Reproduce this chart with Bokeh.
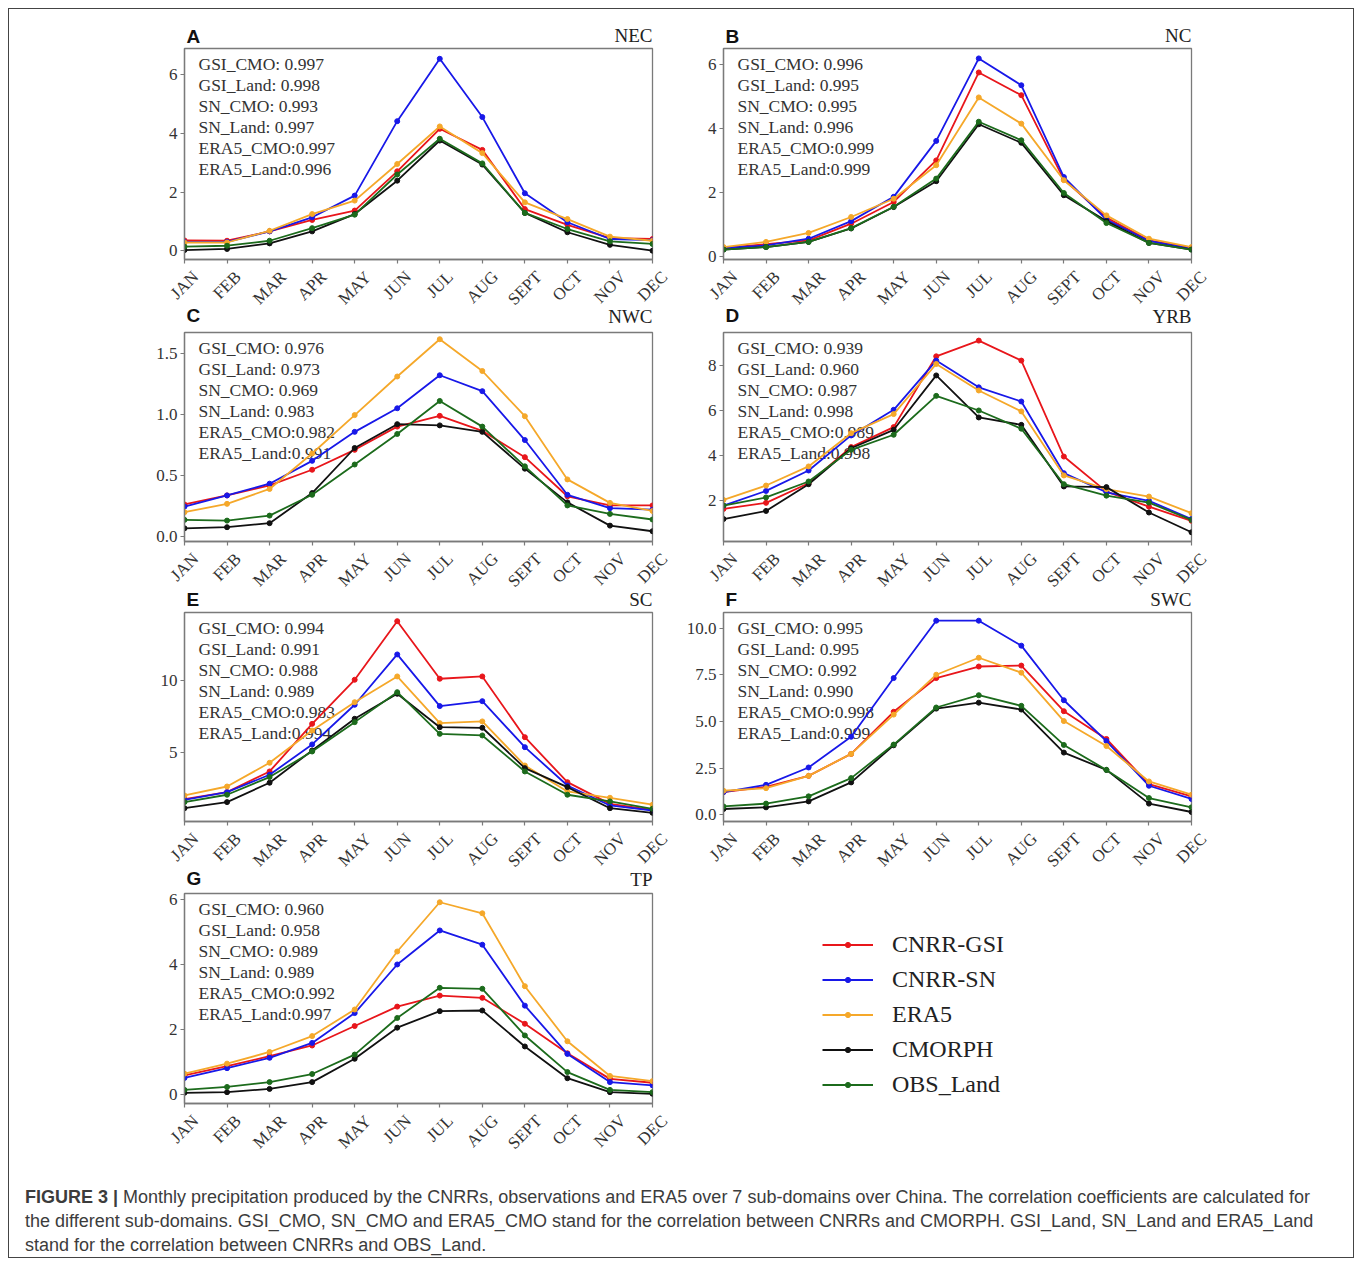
import numpy as np
from bokeh.plotting import figure
from bokeh.models import (Label, Legend, LegendItem, FixedTicker, PrintfTickFormatter,
                          CustomJSTickFormatter, Range1d, Spacer, Div)
from bokeh.layouts import column, row
from bokeh.embed import file_html
from bokeh.resources import INLINE

# ---------------- data ----------------
months = ["JAN", "FEB", "MAR", "APR", "MAY", "JUN", "JUL", "AUG", "SEPT", "OCT", "NOV", "DEC"]
series_names = ["CNRR-GSI", "CNRR-SN", "ERA5", "CMORPH", "OBS_Land"]
series_colors = ["#e8161b", "#1818e8", "#f5a82a", "#111111", "#1c6b1c"]
region_names = ["NEC", "NC", "NWC", "YRB", "SC", "SWC", "TP"]
panel_letters = ["A", "B", "C", "D", "E", "F", "G"]
corr_names = ["GSI_CMO: ", "GSI_Land: ", "SN_CMO: ", "SN_Land: ", "ERA5_CMO:", "ERA5_Land:"]

nec_gsi = [0.35, 0.34, 0.66, 1.05, 1.37, 2.71, 4.16, 3.44, 1.42, 0.88, 0.43, 0.40]
nec_sn = [0.30, 0.30, 0.66, 1.14, 1.88, 4.42, 6.55, 4.56, 1.96, 0.97, 0.40, 0.36]
nec_era5 = [0.28, 0.28, 0.68, 1.25, 1.71, 2.96, 4.24, 3.33, 1.65, 1.08, 0.48, 0.34]
nec_cmo = [0.02, 0.06, 0.25, 0.66, 1.25, 2.39, 3.76, 2.94, 1.29, 0.63, 0.20, 0.00]
nec_obs = [0.14, 0.17, 0.34, 0.77, 1.23, 2.60, 3.82, 2.98, 1.29, 0.74, 0.32, 0.23]

nc_gsi = [0.26, 0.38, 0.50, 1.02, 1.70, 3.00, 5.75, 5.04, 2.40, 1.21, 0.50, 0.26]
nc_sn = [0.26, 0.34, 0.55, 1.10, 1.86, 3.61, 6.19, 5.35, 2.48, 1.15, 0.48, 0.23]
nc_era5 = [0.29, 0.45, 0.73, 1.23, 1.80, 2.85, 4.97, 4.15, 2.38, 1.28, 0.55, 0.29]
nc_cmo = [0.21, 0.29, 0.45, 0.87, 1.54, 2.35, 4.13, 3.55, 1.91, 1.10, 0.42, 0.21]
nc_obs = [0.21, 0.29, 0.45, 0.88, 1.55, 2.43, 4.21, 3.63, 1.98, 1.04, 0.42, 0.21]

nwc_gsi = [0.263, 0.337, 0.419, 0.547, 0.71, 0.90, 0.988, 0.865, 0.65, 0.33, 0.255, 0.255]
nwc_sn = [0.246, 0.337, 0.433, 0.62, 0.857, 1.05, 1.32, 1.19, 0.79, 0.342, 0.233, 0.22]
nwc_era5 = [0.20, 0.268, 0.39, 0.68, 0.994, 1.31, 1.615, 1.355, 0.985, 0.468, 0.276, 0.21]
nwc_cmo = [0.068, 0.077, 0.11, 0.356, 0.725, 0.92, 0.91, 0.857, 0.556, 0.28, 0.09, 0.044]
nwc_obs = [0.137, 0.131, 0.172, 0.342, 0.59, 0.84, 1.11, 0.90, 0.575, 0.255, 0.186, 0.14]

yrb_gsi = [1.63, 1.90, 2.77, 4.38, 5.27, 8.42, 9.12, 8.23, 3.96, 2.40, 1.73, 1.10]
yrb_sn = [1.78, 2.43, 3.34, 4.90, 6.04, 8.23, 7.04, 6.41, 3.22, 2.37, 1.99, 1.18]
yrb_era5 = [2.03, 2.67, 3.52, 5.00, 5.85, 8.08, 6.90, 5.97, 3.12, 2.51, 2.18, 1.44]
yrb_cmo = [1.18, 1.54, 2.73, 4.33, 5.15, 7.57, 5.70, 5.37, 2.63, 2.60, 1.47, 0.59]
yrb_obs = [1.78, 2.14, 2.85, 4.26, 4.93, 6.66, 6.01, 5.20, 2.73, 2.22, 1.91, 1.14]

sc_gsi = [1.80, 2.28, 3.71, 7.00, 10.05, 14.10, 10.12, 10.28, 6.08, 2.97, 1.47, 1.06]
sc_sn = [1.75, 2.28, 3.48, 5.58, 8.32, 11.80, 8.23, 8.57, 5.39, 2.74, 1.36, 1.01]
sc_era5 = [2.05, 2.67, 4.31, 6.54, 8.50, 10.28, 7.05, 7.17, 4.12, 2.33, 1.89, 1.41]
sc_cmo = [1.17, 1.59, 2.93, 5.16, 7.35, 9.08, 6.77, 6.73, 3.94, 2.63, 1.17, 0.85]
sc_obs = [1.59, 2.10, 3.32, 5.09, 7.12, 9.19, 6.31, 6.20, 3.71, 2.10, 1.64, 1.13]

swc_gsi = [1.21, 1.49, 2.08, 3.26, 5.52, 7.33, 7.95, 8.00, 5.55, 4.06, 1.64, 0.98]
swc_sn = [1.21, 1.60, 2.53, 4.18, 7.33, 10.41, 10.41, 9.07, 6.14, 3.95, 1.55, 0.84]
swc_era5 = [1.28, 1.42, 2.08, 3.26, 5.37, 7.51, 8.42, 7.62, 5.02, 3.68, 1.78, 1.07]
swc_cmo = [0.30, 0.39, 0.71, 1.73, 3.72, 5.69, 6.01, 5.64, 3.33, 2.40, 0.59, 0.14]
swc_obs = [0.44, 0.59, 0.98, 1.96, 3.76, 5.75, 6.41, 5.84, 3.74, 2.40, 0.89, 0.39]

tp_gsi = [0.59, 0.87, 1.18, 1.51, 2.11, 2.71, 3.05, 2.98, 2.18, 1.27, 0.48, 0.36]
tp_sn = [0.51, 0.81, 1.13, 1.59, 2.51, 4.01, 5.06, 4.62, 2.74, 1.25, 0.38, 0.28]
tp_era5 = [0.64, 0.95, 1.31, 1.80, 2.62, 4.41, 5.93, 5.59, 3.34, 1.64, 0.57, 0.41]
tp_cmo = [0.05, 0.07, 0.17, 0.38, 1.10, 2.06, 2.57, 2.59, 1.48, 0.50, 0.07, 0.02]
tp_obs = [0.14, 0.23, 0.38, 0.63, 1.23, 2.36, 3.29, 3.26, 1.82, 0.69, 0.14, 0.07]

nec_corr = ["0.997", "0.998", "0.993", "0.997", "0.997", "0.996"]
nc_corr = ["0.996", "0.995", "0.995", "0.996", "0.999", "0.999"]
nwc_corr = ["0.976", "0.973", "0.969", "0.983", "0.982", "0.991"]
yrb_corr = ["0.939", "0.960", "0.987", "0.998", "0.989", "0.998"]
sc_corr = ["0.994", "0.991", "0.988", "0.989", "0.983", "0.994"]
swc_corr = ["0.995", "0.995", "0.992", "0.990", "0.998", "0.999"]
tp_corr = ["0.960", "0.958", "0.989", "0.989", "0.992", "0.997"]

nec_yticks = [0, 2, 4, 6]
nc_yticks = [0, 2, 4, 6]
nwc_yticks = [0.0, 0.5, 1.0, 1.5]
yrb_yticks = [2, 4, 6, 8]
sc_yticks = [5, 10]
swc_yticks = [0.0, 2.5, 5.0, 7.5, 10.0]
tp_yticks = [0, 2, 4, 6]

panels = [
    dict(series=[nec_gsi, nec_sn, nec_era5, nec_cmo, nec_obs], corr=nec_corr, ticks=nec_yticks, yr=(-0.30, 6.90), fmt="%d"),
    dict(series=[nc_gsi, nc_sn, nc_era5, nc_cmo, nc_obs], corr=nc_corr, ticks=nc_yticks, yr=(-0.10, 6.50), fmt="%d"),
    dict(series=[nwc_gsi, nwc_sn, nwc_era5, nwc_cmo, nwc_obs], corr=nwc_corr, ticks=nwc_yticks, yr=(-0.04, 1.67), fmt="%.1f"),
    dict(series=[yrb_gsi, yrb_sn, yrb_era5, yrb_cmo, yrb_obs], corr=yrb_corr, ticks=yrb_yticks, yr=(0.18, 9.48), fmt="%d"),
    dict(series=[sc_gsi, sc_sn, sc_era5, sc_cmo, sc_obs], corr=sc_corr, ticks=sc_yticks, yr=(0.25, 14.70), fmt="%d"),
    dict(series=[swc_gsi, swc_sn, swc_era5, swc_cmo, swc_obs], corr=swc_corr, ticks=swc_yticks, yr=(-0.37, 10.85), fmt="%.1f"),
    dict(series=[tp_gsi, tp_sn, tp_era5, tp_cmo, tp_obs], corr=tp_corr, ticks=tp_yticks, yr=(-0.28, 6.20), fmt="%d"),
]

# ---------------- styling / layout constants ----------------
SERIF = "Liberation Serif"
SANS = "Liberation Sans"
AXIS_GREY = "#7a7a7a"
FRAME_W = 468
LEFT_B = 50
RIGHT_B = 21
FIG_W = LEFT_B + FRAME_W + RIGHT_B
PX_PER_MONTH = FRAME_W / 11.0
BOT_B = 6
MONTH_FS = 17
BASE_SHIFT = 6.5          # bokeh places 'alphabetic' text this much lower than expected

top_b = [1, 4, 4, 4]
frame_h = [211, 209, 209, 210]
strip_h = [38, 63, 61, 62, 45]            # strips above row0, between rows, below last row
letter_off = [(6, 7), (11, 10), (7, 7), (9, 8)]   # baseline above frame top: (letter, region)

# approximate Times/Liberation Serif advance widths (em) for the month label layout
EM = {'A': .722, 'B': .667, 'C': .667, 'D': .722, 'E': .611, 'F': .556, 'G': .722, 'J': .389,
      'L': .611, 'M': .889, 'N': .722, 'O': .722, 'P': .556, 'R': .667, 'S': .556, 'T': .611,
      'U': .722, 'V': .722, 'Y': .722}


def make_panel(i):
    cfg = panels[i]
    r = i // 2
    fh = frame_h[r]
    p = figure(width=FIG_W, height=top_b[r] + fh + BOT_B,
               x_range=Range1d(0, 11), y_range=Range1d(*cfg["yr"]),
               output_backend="svg", toolbar_location=None, title=None,
               min_border_left=LEFT_B, min_border_right=RIGHT_B,
               min_border_top=top_b[r], min_border_bottom=BOT_B)
    p.xgrid.visible = False
    p.ygrid.visible = False
    p.outline_line_color = AXIS_GREY
    p.outline_line_width = 1.3

    xs = list(range(len(months)))
    for vals, col in zip(cfg["series"], series_colors):
        p.line(xs, vals, line_color=col, line_width=1.8)
        p.scatter(xs, vals, size=5, fill_color=col, line_color=col)

    for ax in (p.xaxis[0], p.yaxis[0]):
        ax.axis_line_color = AXIS_GREY
        ax.axis_line_width = 1.3
        ax.major_tick_line_color = AXIS_GREY
        ax.major_tick_line_width = 1.2
        ax.major_tick_out = 4
        ax.major_tick_in = 0
        ax.minor_tick_line_color = None
        ax.major_label_text_font = SERIF
        ax.major_label_text_color = "#333333"
    # x tick marks only; the rotated month names are drawn in the strip below
    p.xaxis.ticker = FixedTicker(ticks=xs)
    p.xaxis.formatter = CustomJSTickFormatter(code="return '';")
    p.xaxis.major_label_text_font_size = "1px"
    p.xaxis.major_label_standoff = 0
    p.yaxis.major_label_text_font_size = "17px"
    p.yaxis.major_label_standoff = 3
    p.yaxis.ticker = FixedTicker(ticks=cfg["ticks"])
    p.yaxis.formatter = PrintfTickFormatter(format=cfg["fmt"])

    ytop = cfg["yr"][1]
    for k, (nm, v) in enumerate(zip(corr_names, cfg["corr"])):
        p.add_layout(Label(x=0, y=ytop, x_offset=14, y_offset=-(21 + 21 * k) + 6, text=nm + v,
                           text_font=SERIF, text_font_size="17.5px", text_color="#333333",
                           text_baseline="alphabetic", level="underlay"))
    return p


def make_strip(h, above=None, below=None, row_below=None):
    """Strip between two panel rows: month names of the panel above,
    panel letter and region name of the panel below. y = px below the frame bottom of 'above';
    x uses the same month scale as the panels, widened to the full strip width."""
    s = figure(width=FIG_W, height=h,
               x_range=Range1d(-LEFT_B / PX_PER_MONTH, 11 + RIGHT_B / PX_PER_MONTH),
               y_range=Range1d(-(BOT_B + h), -BOT_B), output_backend="svg",
               toolbar_location=None, title=None, min_border=0,
               x_axis_location=None, y_axis_location=None)
    s.xgrid.visible = False
    s.ygrid.visible = False
    s.outline_line_color = None
    if above is not None:
        for k, m in enumerate(months):
            w = sum(EM[c] for c in m) * MONTH_FS
            cy = 10.5 + 0.354 * (w + 0.66 * MONTH_FS)
            s.add_layout(Label(x=k, y=-cy, text=m, angle=np.pi / 4, text_align="center",
                               text_baseline="middle", text_font=SERIF,
                               text_font_size=f"{MONTH_FS}px", text_color="#333333"))
    if below is not None:
        loff, roff = letter_off[row_below]
        ybot = -(BOT_B + h) - top_b[row_below]
        s.add_layout(Label(x=0, y=ybot + loff + BASE_SHIFT, x_offset=2, text=panel_letters[below],
                           text_font=SANS, text_font_style="bold", text_font_size="19px",
                           text_color="#111111", text_baseline="alphabetic"))
        s.add_layout(Label(x=11, y=ybot + roff + BASE_SHIFT, text=region_names[below],
                           text_font=SERIF, text_font_size="19px", text_align="right",
                           text_color="#222222", text_baseline="alphabetic"))
    return s


figs = [make_panel(i) for i in range(7)]

# legend-only figure (renderers hold NaN placeholders so nothing is plotted)
LEG_M = 34
lf = figure(width=FIG_W, height=top_b[3] + frame_h[3] + BOT_B,
            x_range=Range1d(0, 1), y_range=Range1d(0, 1), output_backend="svg",
            toolbar_location=None, title=None, min_border=0, min_border_left=149 - LEG_M,
            min_border_top=top_b[3] - 1, x_axis_location=None, y_axis_location=None)
lf.xgrid.visible = False
lf.ygrid.visible = False
lf.outline_line_color = None
items = []
for nm, col in zip(series_names, series_colors):
    r1 = lf.line(x=[np.nan], y=[np.nan], line_color=col, line_width=1.8)
    r2 = lf.scatter(x=[np.nan], y=[np.nan], size=5, fill_color=col, line_color=col)
    items.append(LegendItem(label=nm, renderers=[r1, r2]))
leg = Legend(items=items, location="top_left", border_line_color=None,
             background_fill_alpha=0, label_text_font=SERIF, label_text_font_size="24px",
             label_text_color="#222222", glyph_width=51, glyph_height=13, label_height=35,
             label_standoff=19, spacing=0, padding=0, margin=LEG_M)
lf.add_layout(leg)

caption = Div(
    text=("<b>FIGURE 3 |</b> Monthly precipitation produced by the CNRRs, observations and ERA5 over 7 sub-domains over China. "
          "The correlation coefficients are calculated for<br>the different sub-domains. GSI_CMO, SN_CMO and ERA5_CMO stand for "
          "the correlation between CNRRs and CMORPH. GSI_Land, SN_Land and ERA5_Land<br>stand for the correlation between CNRRs and OBS_Land."),
    width=1320, height=72, margin=0,
    styles={"font-family": "Liberation Sans, Arial, sans-serif", "font-size": "18px",
            "color": "#3c3c3c", "line-height": "24px", "white-space": "nowrap"})

LEFT_PAD = 125
grid = [(0, 1), (2, 3), (4, 5), (6, None)]
blocks = []
for r in range(5):
    above = grid[r - 1] if r > 0 else (None, None)
    below = grid[r] if r < 4 else (None, None)
    strips = []
    for c in range(2):
        strips.append(make_strip(strip_h[r], above=above[c], below=below[c],
                                 row_below=r if r < 4 else None))
    blocks.append(row(Spacer(width=LEFT_PAD), *strips))
    if r < 4:
        left, right = grid[r]
        blocks.append(row(Spacer(width=LEFT_PAD), figs[left], figs[right] if right is not None else lf))

inner = column(*blocks, Spacer(height=31),
               row(Spacer(width=16), caption),
               width=1346,
               styles={"border": "1px solid #444444", "background-color": "white"})
root = row(Spacer(width=8), column(Spacer(height=8), inner))

open("out.html", "w").write(file_html(root, INLINE))
